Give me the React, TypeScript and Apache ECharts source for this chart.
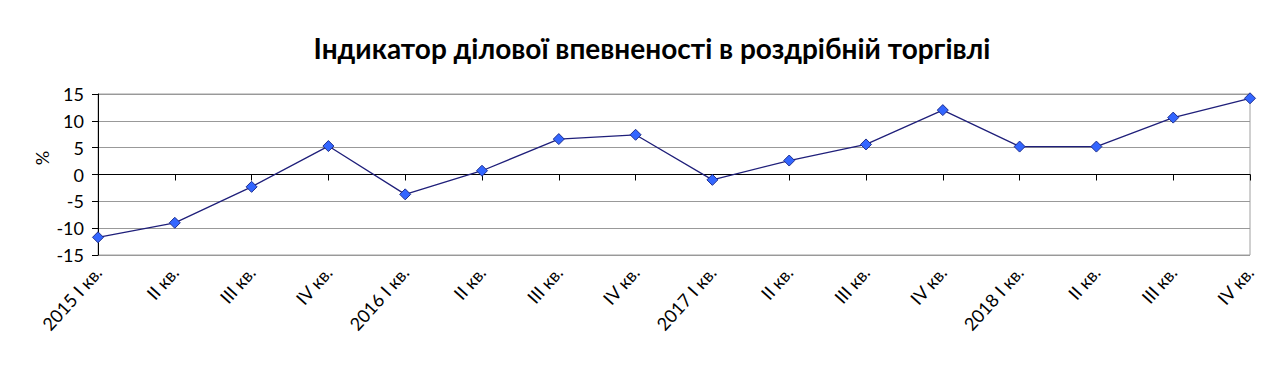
import React, { useEffect, useRef } from "react";
import * as echarts from "echarts";

const categories = [
  "2015 I кв.", "II кв.", "III кв.", "IV кв.",
  "2016 I кв.", "II кв.", "III кв.", "IV кв.",
  "2017 I кв.", "II кв.", "III кв.", "IV кв.",
  "2018 I кв.", "II кв.", "III кв.", "IV кв.",
];
const values = [-11.7, -9.0, -2.3, 5.3, -3.7, 0.7, 6.6, 7.4, -1.0, 2.6, 5.6, 12.0, 5.2, 5.2, 10.6, 14.2];
const yTicks = { min: -15, max: 15, interval: 5 };
const title = "Індикатор ділової впевненості в роздрібній торгівлі";
const yName = "%";

export default function App() {
  const ref = useRef<HTMLDivElement>(null);
  useEffect(() => {
    if (!ref.current) return;
    const chart = echarts.init(ref.current, undefined, { renderer: "svg" });
    const font = "Lato, 'Open Sans', sans-serif";
    chart.setOption({
      animation: false,
      backgroundColor: "#ffffff",
      title: {
        text: title,
        left: 639,
        textAlign: "center",
        top: 21,
        textStyle: { fontFamily: font, fontSize: 28, fontWeight: "bold", color: "#000" },
      },
      graphic: [
        {
          type: "text",
          x: 34,
          y: 150,
          rotation: Math.PI / 2,
          style: {
            text: yName,
            fontFamily: font,
            fontSize: 18,
            fill: "#000",
            textAlign: "center",
            textVerticalAlign: "middle",
          },
        },
      ],
      grid: {
        left: 90,
        right: 22,
        top: 86,
        bottom: 117,
        show: true,
        borderColor: "#a0a0a0",
        borderWidth: 1,
      },
      xAxis: {
        type: "category",
        data: categories,
        boundaryGap: false,
        axisLine: { lineStyle: { color: "#000", width: 1 } },
        axisTick: { show: true, alignWithLabel: true, length: 6, lineStyle: { color: "#000" } },
        axisLabel: {
          rotate: 48,
          interval: 0,
          fontFamily: font,
          fontSize: 18,
          color: "#000",
          margin: 14,
        },
        splitLine: { show: false },
      },
      yAxis: {
        type: "value",
        min: yTicks.min,
        max: yTicks.max,
        interval: yTicks.interval,
        axisLine: { show: true, lineStyle: { color: "#000", width: 1 } },
        axisTick: { show: true, length: 6, inside: false, lineStyle: { color: "#000" } },
        axisLabel: { fontFamily: font, fontSize: 18, color: "#000", margin: 14 },
        splitLine: { show: true, lineStyle: { color: "#999999", width: 1 } },
      },
      series: [
        {
          type: "line",
          data: values,
          symbol: "diamond",
          symbolSize: 11,
          lineStyle: { color: "#1f1f7a", width: 1.3 },
          itemStyle: { color: "#3366ff", borderColor: "#1f2f8f", borderWidth: 1 },
        },
      ],
    });
    return () => chart.dispose();
  }, []);
  return <div ref={ref} style={{ width: 1264, height: 364 }} />;
}
